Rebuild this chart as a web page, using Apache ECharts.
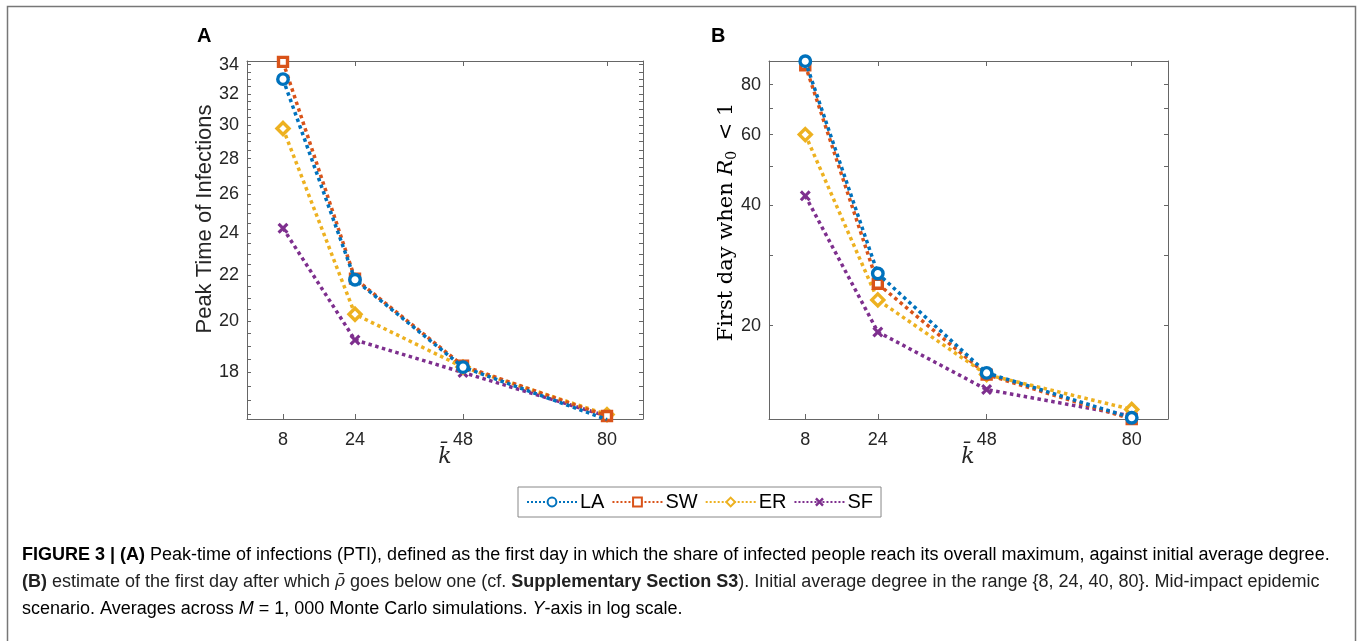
<!DOCTYPE html>
<html>
<head>
<meta charset="utf-8">
<script src="https://cdn.jsdelivr.net/npm/echarts@6/dist/echarts.min.js"></script>
<style>
html,body{margin:0;padding:0;background:#fff;}
#c{width:1360px;height:641px;}
</style>
</head>
<body>
<div id="c"></div>
<script>
// ---- data ----
const kValues = [8, 24, 48, 80];
const xTicks = [8, 24, 48, 80];
const seriesNames = ['LA', 'SW', 'ER', 'SF'];
// Panel A: Peak time of infections
const ptiLA = [33.0, 21.8, 18.2, 16.33];
const ptiSW = [34.2, 21.85, 18.25, 16.45];
const ptiER = [29.8, 20.3, 18.2, 16.5];
const ptiSF = [24.25, 19.25, 18.0, 16.45];
// Panel B: first day when R0 < 1
const fdLA = [91.5, 27.0, 15.25, 11.78];
const fdSW = [89.4, 25.45, 15.1, 11.7];
const fdER = [60.0, 23.2, 15.1, 12.36];
const fdSF = [42.2, 19.3, 13.86, 11.9];
const yTicksA = [18, 20, 22, 24, 26, 28, 30, 32, 34];
const yMinorA = [16.5, 17, 17.5, 18.5, 19, 19.5, 20.5, 21, 21.5, 22.5, 23, 23.5, 24.5, 25, 25.5, 26.5, 27, 27.5, 28.5, 29, 29.5, 30.5, 31, 31.5, 32.5, 33, 33.5];
const yTicksB = [20, 40, 60, 80];
const yMinorB = [30, 50, 70];

const colors = ['#0072BD', '#D95319', '#EDB120', '#7E2F8E'];
const xPath = 'path://M2,0 L5,3 L8,0 L10,2 L7,5 L10,8 L8,10 L5,7 L2,10 L0,8 L3,5 L0,2 Z';
const symbols = ['circle', 'rect', 'diamond', xPath];
const symSizes = [10.5, 9, 12, 11];

const axisColor = '#666';
const tickFont = {fontFamily: 'Liberation Sans', fontSize: 18, color: '#262626'};

function xAx(gi, pos) {
  return {
    type: 'value', gridIndex: gi, position: pos, min: 0, max: 88,
    axisLine: {show: true, onZero: false, lineStyle: {color: axisColor, width: 1}},
    axisTick: {show: true, inside: true, length: 5, customValues: xTicks, lineStyle: {color: axisColor}},
    axisLabel: Object.assign({show: pos === 'bottom', margin: 12, customValues: xTicks}, tickFont),
    splitLine: {show: false}
  };
}
function yAx(gi, pos, min, max, ticks, minor) {
  return {
    type: 'log', logBase: 10, gridIndex: gi, position: pos, min: min, max: max,
    axisLine: {show: true, onZero: false, lineStyle: {color: axisColor, width: 1}},
    axisTick: {show: true, inside: true, length: 4, customValues: ticks.concat(minor), lineStyle: {color: axisColor}},
    axisLabel: Object.assign({show: pos === 'left', margin: 8, customValues: ticks}, tickFont),
    splitLine: {show: false}, minorTick: {show: false}
  };
}

function mkSeries(vals, i, xi, yi) {
  return {
    type: 'line', name: seriesNames[i], xAxisIndex: xi, yAxisIndex: yi,
    data: kValues.map((k, j) => [k, vals[j]]),
    symbol: symbols[i], symbolSize: symSizes[i], showSymbol: true,
    lineStyle: {type: 'dotted', width: 3.5, color: colors[i]},
    itemStyle: i === 3 ? {color: colors[i], borderWidth: 0}
      : {color: '#fff', borderColor: colors[i], borderWidth: 3.4},
    z: 10 - i,
    animation: false
  };
}

const chart = echarts.init(document.getElementById('c'), null, {renderer: 'canvas'});
const serif = "'DejaVu Serif', 'Liberation Serif', serif";
const capFont = "'Liberation Sans', Arial, sans-serif";
const capSize = 18;
const capRichB = {fontFamily: capFont, fontWeight: 'bold', fontSize: capSize, color: '#222'};
const capRichN = {fontFamily: capFont, fontSize: capSize, color: '#222'};
const capRichI = {fontFamily: capFont, fontStyle: 'italic', fontSize: capSize, color: '#222'};
const capRichS = {fontFamily: serif, fontStyle: 'italic', fontSize: capSize - 1, color: '#222'};

const option = {
  animation: false,
  color: colors,
  grid: [
    {left: 247, top: 61, width: 396, height: 358},
    {left: 769, top: 61, width: 399, height: 358}
  ],
  xAxis: [xAx(0, 'bottom'), xAx(0, 'top'), xAx(1, 'bottom'), xAx(1, 'top')],
  yAxis: [
    yAx(0, 'left', 16.35, 34.26, yTicksA, yMinorA),
    yAx(0, 'right', 16.35, 34.26, yTicksA, yMinorA),
    yAx(1, 'left', 11.7, 91.6, yTicksB, yMinorB),
    yAx(1, 'right', 11.7, 91.6, yTicksB, yMinorB)
  ],
  legend: {
    left: 518, top: 487, width: 372, height: 32,
    orient: 'horizontal',
    data: seriesNames,
    itemWidth: 50, itemHeight: 11, itemGap: 7,
    padding: [5, 8, 5, 8],
    borderColor: '#888', borderWidth: 1, backgroundColor: '#fff',
    textStyle: {fontFamily: capFont, fontSize: 20, color: '#000', padding: [0, 0, 0, -2]}
  },
  series: [
    mkSeries(ptiLA, 0, 0, 0), mkSeries(ptiSW, 1, 0, 0), mkSeries(ptiER, 2, 0, 0), mkSeries(ptiSF, 3, 0, 0),
    mkSeries(fdLA, 0, 2, 2), mkSeries(fdSW, 1, 2, 2), mkSeries(fdER, 2, 2, 2), mkSeries(fdSF, 3, 2, 2)
  ],
  graphic: [
    {type: 'rect', shape: {x: 7.5, y: 6.5, width: 1348, height: 700}, style: {fill: 'none', stroke: '#777', lineWidth: 1.5}, silent: true},
    {type: 'text', x: 197, y: 26, style: {text: 'A', font: "bold 20px 'Liberation Sans'", fill: '#000'}},
    {type: 'text', x: 711, y: 26, style: {text: 'B', font: "bold 20px 'Liberation Sans'", fill: '#000'}},
    {type: 'text', x: 205, y: 219, rotation: Math.PI / 2,
      style: {text: 'Peak Time of Infections', font: "22px 'Liberation Sans'", fill: '#262626', align: 'center', verticalAlign: 'middle'}},
    {type: 'text', x: 727, y: 222, rotation: Math.PI / 2,
      style: {
        text: '{a|First day when }{r|R}{s|0}{a| < 1}',
        align: 'center', verticalAlign: 'middle',
        rich: {
          a: {fontFamily: serif, fontSize: 21, color: '#262626'},
          r: {fontFamily: serif, fontStyle: 'italic', fontSize: 21, color: '#262626'},
          s: {fontFamily: serif, fontSize: 14, color: '#262626', padding: [11, 4, 0, 0]}
        }
      }},
    {type: 'text', x: 445, y: 457, style: {text: 'k\u0304', font: "italic 22px 'DejaVu Serif'", fill: '#262626', align: 'center', verticalAlign: 'middle'}},
    {type: 'text', x: 968, y: 457, style: {text: 'k\u0304', font: "italic 22px 'DejaVu Serif'", fill: '#262626', align: 'center', verticalAlign: 'middle'}},
    {type: 'text', x: 22, y: 555, style: {
      text: '{b|FIGURE 3 | (A)}{n| Peak-time of infections (PTI), defined as the first day in which the share of infected people reach its overall maximum, against initial average degree.}',
      verticalAlign: 'middle',
      rich: {b: capRichB, n: capRichN}
    }},
    {type: 'text', x: 22, y: 582, style: {
      text: '{b|(B)}{n| estimate of the first day after which }{i|\u03C1\u0304}{n| goes below one (cf. }{b|Supplementary Section S3}{n|). Initial average degree in the range }{8, 24, 40, 80}{n|. Mid-impact epidemic}',
      verticalAlign: 'middle',
      font: capSize + "px 'Liberation Sans'", fill: '#222',
      rich: {b: capRichB, n: capRichN, i: capRichS}
    }},
    {type: 'text', x: 22, y: 609, style: {
      text: '{n|scenario. Averages across }{i|M}{n| = 1, 000 Monte Carlo simulations. }{i|Y}{n|-axis in log scale.}',
      verticalAlign: 'middle',
      rich: {n: capRichN, i: capRichI}
    }}
  ]
};
chart.setOption(option);
</script>
</body>
</html>
